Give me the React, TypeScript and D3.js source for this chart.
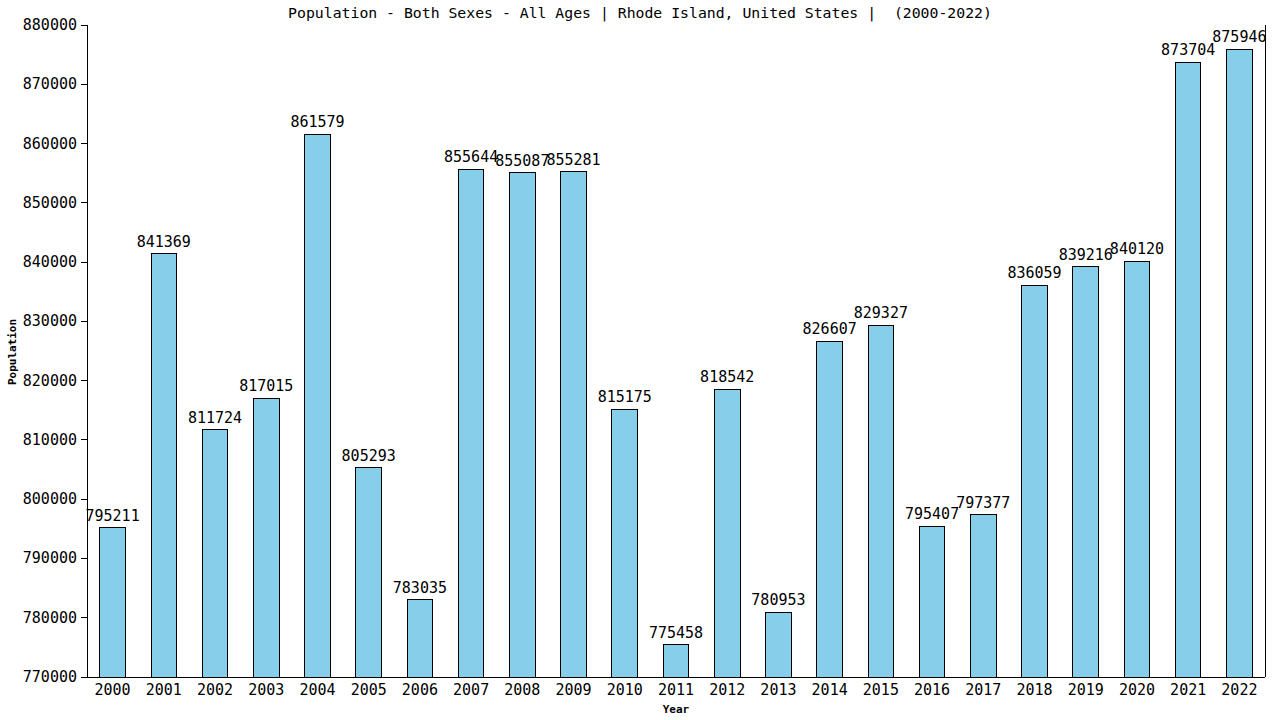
import React from "react";
import * as d3 from "d3";

const years = ["2000","2001","2002","2003","2004","2005","2006","2007","2008","2009","2010","2011","2012","2013","2014","2015","2016","2017","2018","2019","2020","2021","2022"];
const population = [795211,841369,811724,817015,861579,805293,783035,855644,855087,855281,815175,775458,818542,780953,826607,829327,795407,797377,836059,839216,840120,873704,875946];
const yTicks = [770000,780000,790000,800000,810000,820000,830000,840000,850000,860000,870000,880000];
const title = "Population - Both Sexes - All Ages | Rhode Island, United States |  (2000-2022)";

const W = 1280, H = 720;
const left = 87, right = 1265, top = 25, bottom = 677;
const font = "'DejaVu Sans Mono', monospace";

export default function App() {
  const x = d3.scaleBand<string>().domain(years).range([left, right]).paddingInner(0.5).paddingOuter(0.25);
  const y = d3.scaleLinear().domain([770000, 880000]).range([bottom, top]);
  return (
    <svg width={W} height={H} style={{ position: "absolute", left: 0, top: 0, background: "#fff" }}>
      <rect x={0} y={0} width={W} height={H} fill="#fff" />
      <text x={640} y={18} textAnchor="middle" fontFamily={font} fontSize={14.8} style={{ whiteSpace: "pre" }}>{title}</text>
      {years.map((yr, i) => {
        const bx = x(yr)!;
        const by = y(population[i]);
        return (
          <g key={yr}>
            <rect x={bx} y={by} width={x.bandwidth()} height={bottom - by} fill="#87ceeb" stroke="#000" strokeWidth={1} shapeRendering="crispEdges" />
            <text x={bx + x.bandwidth() / 2} y={by - 7} textAnchor="middle" fontFamily={font} fontSize={15}>{population[i]}</text>
            <text x={bx + x.bandwidth() / 2} y={bottom + 18} textAnchor="middle" fontFamily={font} fontSize={15}>{yr}</text>
          </g>
        );
      })}
      <line x1={left} x2={left} y1={top} y2={bottom} stroke="#000" shapeRendering="crispEdges" />
      <line x1={left} x2={right} y1={bottom} y2={bottom} stroke="#000" shapeRendering="crispEdges" />
      <line x1={right} x2={right} y1={top} y2={bottom} stroke="#000" shapeRendering="crispEdges" />
      {yTicks.map((t) => (
        <g key={t}>
          <line x1={left - 6} x2={left} y1={y(t)} y2={y(t)} stroke="#000" shapeRendering="crispEdges" />
          <text x={left - 10} y={y(t) + 5} textAnchor="end" fontFamily={font} fontSize={15}>{t}</text>
        </g>
      ))}
      <text x={676} y={713} textAnchor="middle" fontFamily={font} fontSize={11} fontWeight="bold">Year</text>
      <text transform={`translate(16,352) rotate(-90)`} textAnchor="middle" fontFamily={font} fontSize={11} fontWeight="bold">Population</text>
    </svg>
  );
}
